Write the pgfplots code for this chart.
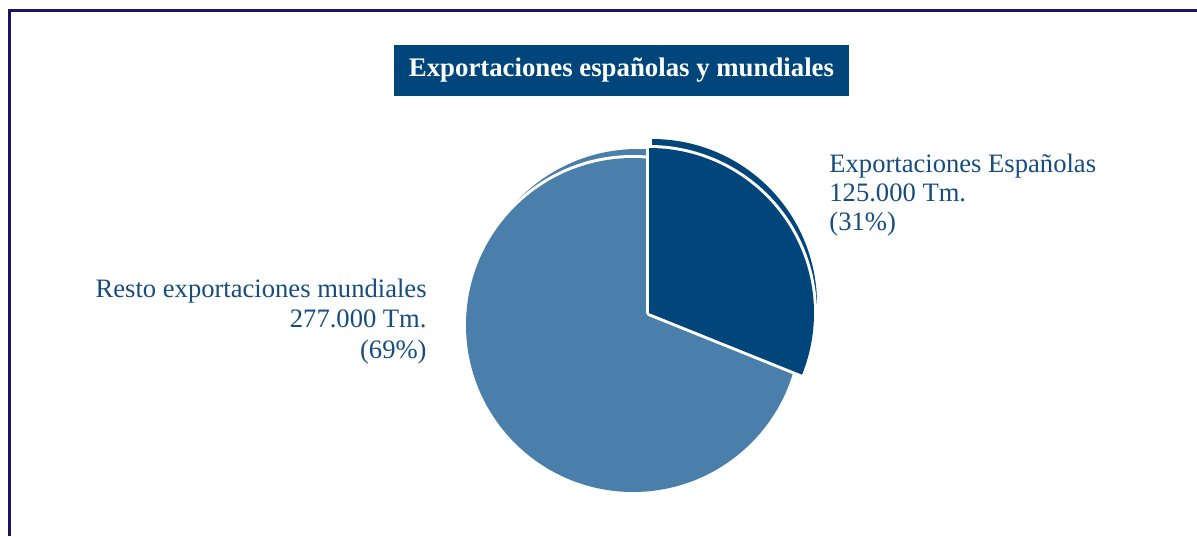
\documentclass[border=0pt]{standalone}
\usepackage{fontspec}
\setmainfont{Liberation Serif}
\usepackage{pgfplots}
\pgfplotsset{compat=1.18}
\definecolor{darkblue}{HTML}{00467A}
\definecolor{lightblue}{HTML}{4A7FAC}
\definecolor{textblue}{HTML}{164C7E}
\definecolor{frame}{HTML}{1B1464}
% values in thousands of Tm
\def\vEsp{125}
\def\vResto{277}
\begin{document}
\begin{tikzpicture}
\pgfmathsetmacro{\total}{\vEsp+\vResto}
\pgfmathsetmacro{\angEsp}{360*(\vEsp/\total)}
\pgfmathsetmacro{\endEsp}{90-\angEsp}
\begin{axis}[
  x=0.5pt, y=0.5pt,
  xmin=0, xmax=1197, ymin=0, ymax=536,
  hide axis, clip=false,
  at={(0,0)}, anchor=south west,
]
% frame
\draw[frame, line width=1.3pt] (axis cs:9.3,0) -- (axis cs:9.3,525.5) -- (axis cs:1197,525.5);
% title
\node[fill=darkblue, text=white, font=\fontsize{13.4}{15}\selectfont\bfseries,
  minimum width=227.5pt, minimum height=25.5pt, inner sep=0pt]
  at (axis cs:621.5,465.5) {Exportaciones españolas y mundiales};
% Resto slice (light)
\fill[lightblue] (axis cs:638,220) -- ++(90:83.5pt) arc[start angle=90, end angle=\endEsp-360, radius=83.5pt] -- cycle;
\draw[white, line width=3pt, line join=round] (axis cs:633,211) -- ++(90:83.5pt) arc[start angle=90, end angle=\endEsp-360, radius=83.5pt] -- cycle;
\fill[lightblue] (axis cs:633,211) -- ++(90:83.5pt) arc[start angle=90, end angle=\endEsp-360, radius=83.5pt] -- cycle;
% Espanolas slice (dark, exploded)
\fill[darkblue] (axis cs:652,232) -- ++(90:82.5pt) arc[start angle=90, end angle=\endEsp, radius=82.5pt] -- cycle;
\draw[white, line width=3pt, line join=round] (axis cs:649,223) -- ++(90:82.5pt) arc[start angle=90, end angle=\endEsp, radius=82.5pt] -- cycle;
\fill[darkblue] (axis cs:649,223) -- ++(90:82.5pt) arc[start angle=90, end angle=\endEsp, radius=82.5pt] -- cycle;
% labels
\node[anchor=base west, align=left, inner sep=0pt, text=textblue, font=\fontsize{13.3}{14.3}\selectfont]
  at (axis cs:829,306) {Exportaciones Españolas\\125.000 Tm.\\(31\%)};
\node[anchor=base east, align=right, inner sep=0pt, text=textblue, font=\fontsize{13.3}{15.2}\selectfont]
  at (axis cs:427,178) {Resto exportaciones mundiales\\277.000 Tm.\\(69\%)};
\end{axis}
\pgfresetboundingbox
\path (0,0) rectangle (598.5pt,268pt);
\end{tikzpicture}
\end{document}
